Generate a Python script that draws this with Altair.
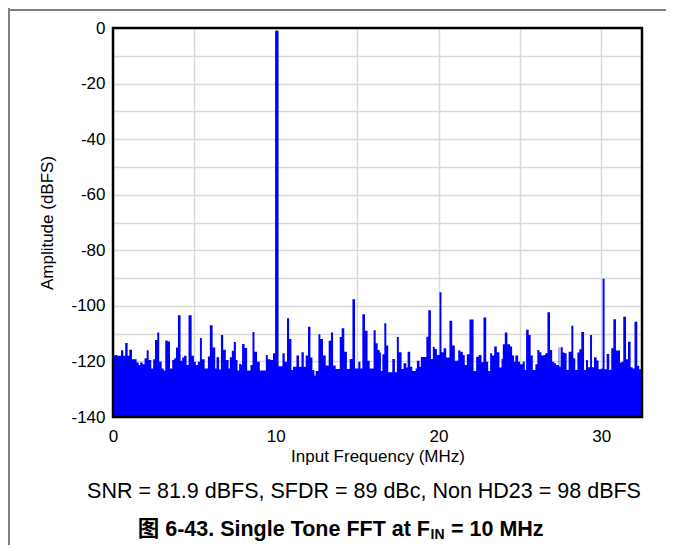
import altair as alt
import pandas as pd

# Frequency (MHz) at the start of each spectrum segment
freq_mhz = [
    0.00, 0.12, 0.26, 0.49, 0.63, 0.75, 0.90, 1.00, 1.17, 1.45,
    1.58, 1.67, 1.82, 1.94, 2.07, 2.19, 2.35, 2.47, 2.58, 2.72,
    2.84, 2.99, 3.11, 3.21, 3.36, 3.50, 3.64, 3.76, 3.87, 3.99,
    4.15, 4.25, 4.37, 4.52, 4.64, 4.83, 4.97, 5.09, 5.21, 5.34,
    5.46, 5.63, 5.83, 5.95, 6.12, 6.28, 6.36, 6.52, 6.63, 6.77,
    6.93, 7.10, 7.18, 7.30, 7.42, 7.55, 7.65, 7.75, 7.87, 7.93,
    8.08, 8.24, 8.45, 8.57, 8.69, 8.85, 9.02, 9.39, 9.51, 9.67,
    9.83, 9.96, 10.17, 10.41, 10.55, 10.69, 10.82, 10.96, 11.06, 11.27,
    11.43, 11.58, 11.72, 11.84, 11.98, 12.13, 12.25, 12.37, 12.45, 12.62,
    12.74, 12.90, 13.07, 13.25, 13.39, 13.52, 13.68, 13.93, 14.05, 14.21,
    14.37, 14.54, 14.71, 14.87, 15.07, 15.20, 15.32, 15.48, 15.64, 15.77,
    16.01, 16.14, 16.26, 16.38, 16.46, 16.55, 16.67, 16.79, 16.91, 17.16,
    17.32, 17.44, 17.56, 17.73, 17.85, 18.02, 18.10, 18.26, 18.39, 18.59,
    18.67, 18.83, 18.91, 19.25, 19.37, 19.53, 19.65, 19.77, 19.90, 20.06,
    20.18, 20.31, 20.47, 20.67, 20.84, 21.00, 21.21, 21.33, 21.49, 21.61,
    21.74, 21.90, 22.15, 22.31, 22.47, 22.64, 22.76, 22.93, 23.05, 23.17,
    23.29, 23.42, 23.58, 23.74, 23.87, 23.95, 24.07, 24.23, 24.40, 24.52,
    24.64, 24.72, 24.89, 25.01, 25.17, 25.30, 25.38, 25.54, 25.66, 25.79,
    25.95, 26.07, 26.20, 26.32, 26.44, 26.56, 26.69, 26.85, 26.98, 27.10,
    27.22, 27.38, 27.42, 27.50, 27.63, 27.75, 27.87, 27.99, 28.16, 28.28,
    28.40, 28.53, 28.65, 28.77, 28.94, 29.06, 29.18, 29.31, 29.43, 29.55,
    29.71, 29.83, 30.00, 30.08, 30.20, 30.33, 30.49, 30.61, 30.74, 30.90,
    31.15, 31.23, 31.35, 31.52, 31.64, 31.80, 31.92, 32.04, 32.21, 32.33,
    32.50,
]

# Amplitude (dBFS) of each segment
amp_dbfs = [
    -118.0, -117.7, -118.0, -116.0, -118.0, -113.4, -118.0, -115.8, -119.2, -120.4,
    -121.3, -120.4, -121.0, -118.9, -116.0, -119.5, -122.5, -119.2, -112.3, -109.6,
    -120.1, -122.5, -123.3, -112.5, -112.8, -122.5, -119.5, -118.9, -115.0, -103.4,
    -119.8, -118.6, -118.0, -121.3, -103.4, -118.0, -120.1, -121.3, -120.1, -111.6,
    -119.2, -122.5, -118.2, -107.0, -115.0, -122.5, -118.5, -122.9, -110.5, -115.8,
    -119.5, -122.5, -118.5, -116.2, -113.0, -119.5, -123.3, -120.8, -121.3, -113.7,
    -115.2, -123.3, -121.3, -109.4, -116.5, -120.1, -123.3, -117.7, -119.2, -119.5,
    -117.1, -1.0, -121.7, -117.1, -120.1, -104.5, -111.9, -123.1, -121.9, -117.9,
    -121.9, -116.7, -121.9, -117.9, -107.5, -118.6, -123.1, -125.1, -123.4, -110.2,
    -111.9, -117.9, -121.5, -112.6, -109.6, -121.5, -122.7, -111.2, -108.1, -116.5,
    -122.7, -119.1, -97.6, -122.5, -120.1, -122.5, -103.0, -109.0, -119.8, -122.5,
    -108.8, -113.5, -115.9, -116.8, -123.4, -117.4, -106.3, -114.3, -123.9, -119.1,
    -123.9, -111.2, -116.7, -122.7, -120.7, -122.2, -116.5, -121.9, -123.4, -122.5,
    -119.8, -121.9, -118.4, -111.1, -101.6, -119.1, -114.8, -115.5, -117.7, -95.1,
    -116.7, -115.3, -118.6, -105.4, -114.3, -119.8, -116.0, -116.5, -117.7, -121.3,
    -117.4, -104.9, -123.4, -118.3, -117.7, -120.3, -104.2, -120.1, -123.4, -117.1,
    -117.9, -114.6, -116.7, -122.2, -119.1, -113.8, -109.6, -113.8, -114.6, -117.9,
    -120.1, -117.9, -120.1, -121.0, -120.1, -123.1, -108.6, -110.5, -117.9, -123.1,
    -121.0, -115.9, -116.7, -117.9, -117.7, -117.1, -102.3, -115.9, -120.1, -120.7,
    -121.3, -115.0, -121.9, -114.9, -116.8, -117.1, -123.1, -116.5, -107.2, -118.9,
    -123.1, -116.8, -115.6, -109.4, -123.1, -119.5, -122.1, -110.5, -122.1, -118.5,
    -119.7, -122.8, -122.5, -90.2, -122.8, -117.3, -123.1, -115.3, -104.8, -116.1,
    -120.5, -120.1, -103.9, -119.2, -112.9, -122.1, -122.5, -105.7, -121.6, -122.8,
    -122.8,
]

x_ticks = [0, 5, 10, 15, 20, 25, 30]
y_ticks = [0, -10, -20, -30, -40, -50, -60, -70, -80, -90, -100, -110, -120, -130, -140]

metrics_text = "SNR = 81.9 dBFS, SFDR = 89 dBc, Non HD23 = 98 dBFS"
caption_main = "图 6-43. Single Tone FFT at F"
caption_sub = "IN"
caption_tail = " = 10 MHz"

FONT = "Liberation Sans, Arial, Noto Sans CJK SC, sans-serif"
W, H = 529, 389

df = pd.DataFrame({"f": freq_mhz, "a": amp_dbfs})

spectrum = alt.Chart(df).mark_area(
    interpolate="step-after", color="#0000ff", opacity=1
).encode(
    x=alt.X(
        "f:Q",
        scale=alt.Scale(domain=[0, 32.5], nice=False, zero=False),
        axis=alt.Axis(
            values=x_ticks,
            labelExpr="datum.value % 10 == 0 ? '' + datum.value : ''",
            title="Input Frequency (MHz)",
            grid=True, ticks=False, domain=False, labelFlush=False,
            labelPadding=11, titleY=39, titleBaseline="middle",
        ),
    ),
    y=alt.Y(
        "a:Q",
        scale=alt.Scale(domain=[-140, 0], nice=False, zero=False),
        axis=alt.Axis(
            values=y_ticks,
            labelExpr="datum.value % 20 == 0 ? '' + datum.value : ''",
            title="Amplitude (dBFS)",
            grid=True, ticks=False, domain=False, labelFlush=False,
            labelPadding=8, titleX=-66, titleY=H / 2, titleBaseline="middle",
            titleAlign="center", titleAngle=-90,
        ),
    ),
    y2=alt.datum(-140),
)

one = pd.DataFrame({"k": [0]})

frame = alt.Chart(one).mark_rect(
    fill=None, stroke="black", strokeWidth=2.5
).encode(x=alt.value(0), x2=alt.value(W), y=alt.value(0), y2=alt.value(H))

metrics = alt.Chart(one).mark_text(
    font=FONT, fontSize=21.5, align="center", baseline="middle", color="black"
).encode(x=alt.value(251), y=alt.value(464), text=alt.value(metrics_text))

cap1 = alt.Chart(one).mark_text(
    font=FONT, fontSize=21.5, fontWeight="bold", align="right", baseline="middle", color="black"
).encode(x=alt.value(317), y=alt.value(502), text=alt.value(caption_main))

cap2 = alt.Chart(one).mark_text(
    font=FONT, fontSize=14, fontWeight="bold", align="left", baseline="middle", color="black"
).encode(x=alt.value(317.5), y=alt.value(507), text=alt.value(caption_sub))

cap3 = alt.Chart(one).mark_text(
    font=FONT, fontSize=21.5, fontWeight="bold", align="left", baseline="middle", color="black"
).encode(x=alt.value(338), y=alt.value(502), text=alt.value(caption_tail))

border_v = alt.Chart(one).mark_rule(color="#808080", strokeWidth=2).encode(
    x=alt.value(-104), y=alt.value(-20), y2=alt.value(537)
)
border_h = alt.Chart(one).mark_rule(color="#808080", strokeWidth=2).encode(
    x=alt.value(-105), x2=alt.value(553), y=alt.value(-18)
)

chart = alt.layer(
    spectrum, frame, metrics, cap1, cap2, cap3, border_v, border_h
).properties(
    width=W, height=H,
    autosize=alt.AutoSizeParams(type="none"),
    padding={"left": 105, "top": 20, "right": 24, "bottom": 128},
).configure_view(
    stroke=None
).configure_axis(
    gridColor="#d9d9d9", gridWidth=1.5,
    labelFont=FONT, labelFontSize=17, labelColor="black",
    titleFont=FONT, titleFontSize=17, titleColor="black", titleFontWeight="normal",
)

chart.save("out.html", embed_options={"renderer": "svg", "actions": False})
